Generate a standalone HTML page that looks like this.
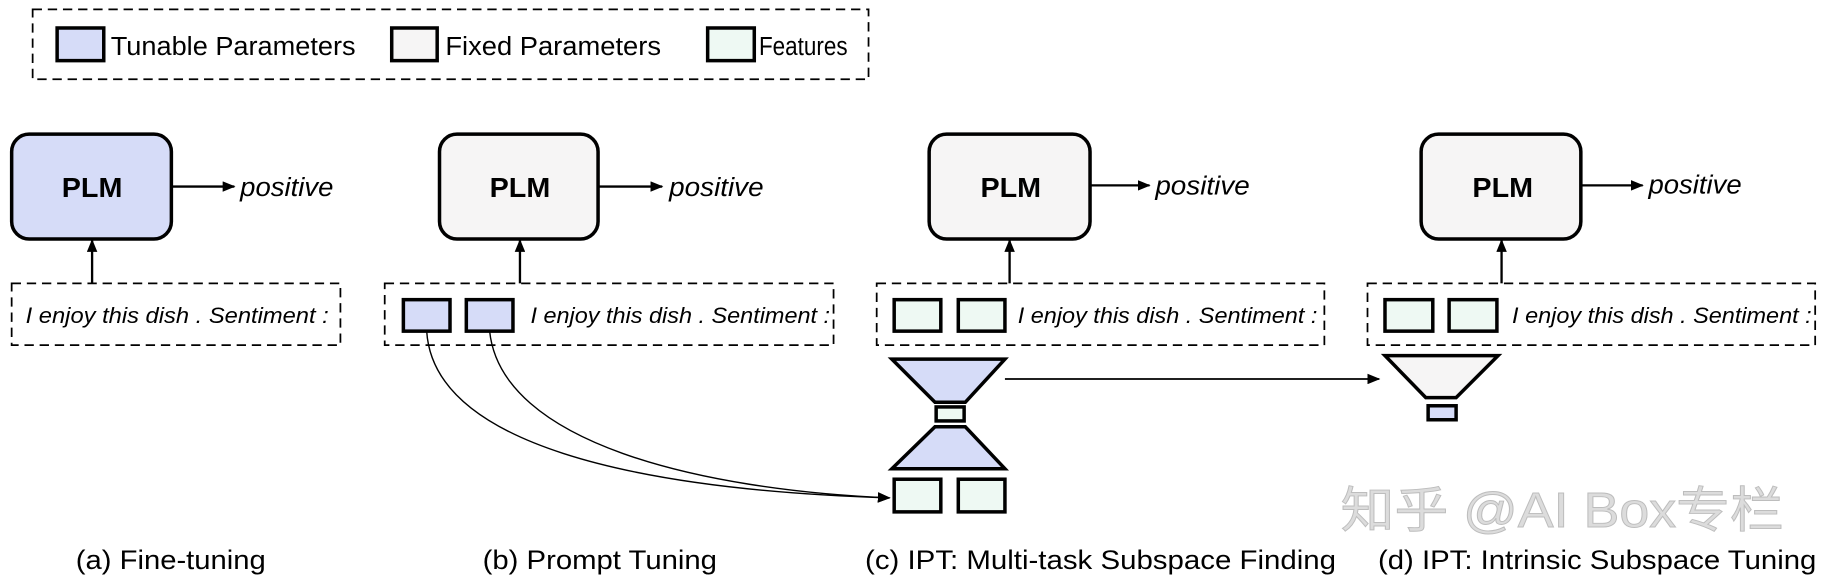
<!DOCTYPE html>
<html><head><meta charset="utf-8"><style>html,body{margin:0;padding:0;background:#fff}svg{display:block}</style></head><body>
<svg width="1828" height="583" viewBox="0 0 1568 500" preserveAspectRatio="none" xmlns="http://www.w3.org/2000/svg" font-family="Liberation Sans, sans-serif">
<defs><marker id="ah" markerWidth="11" markerHeight="9" refX="10" refY="4.5" orient="auto" markerUnits="userSpaceOnUse"><path d="M0,0 L11,4.5 L0,9 Z" fill="#000"/></marker></defs>
<rect x="28" y="8" width="717" height="60" fill="none" stroke="#000" stroke-width="1.5" stroke-dasharray="8,5"/>
<rect x="49" y="24" width="40" height="28" fill="#d6dcf8" stroke="#000" stroke-width="3"/>
<text x="95" y="47" font-size="22" textLength="210" lengthAdjust="spacingAndGlyphs">Tunable Parameters</text>
<rect x="336" y="24" width="39" height="28" fill="#f6f5f5" stroke="#000" stroke-width="3"/>
<text x="382" y="47" font-size="22" textLength="185" lengthAdjust="spacingAndGlyphs">Fixed Parameters</text>
<rect x="607" y="24" width="40" height="28" fill="#eef9f3" stroke="#000" stroke-width="3"/>
<text x="651" y="47" font-size="22" textLength="76" lengthAdjust="spacingAndGlyphs">Features</text>

<g stroke="#000" stroke-width="2" fill="none" marker-end="url(#ah)">
<line x1="79" y1="243" x2="79" y2="206"/><line x1="147" y1="160" x2="201" y2="160"/>
<line x1="446" y1="243" x2="446" y2="206"/><line x1="513" y1="160" x2="568" y2="160"/>
<line x1="866" y1="243" x2="866" y2="206"/><line x1="935" y1="159" x2="986" y2="159"/>
<line x1="1288" y1="243" x2="1288" y2="206"/><line x1="1356" y1="159" x2="1409" y2="159"/>
<line x1="862" y1="325" x2="1183" y2="325" stroke-width="1.5"/>
<path d="M366,284 C372,380 540,420 763,427" stroke-width="1.2"/>
<path d="M420,284 C430,380 600,420 763,427" stroke-width="1.2"/>
</g>

<rect x="10" y="115" width="137" height="90" rx="15" fill="#d6dcf8" stroke="#000" stroke-width="3"/>
<rect x="377" y="115" width="136" height="90" rx="15" fill="#f6f5f5" stroke="#000" stroke-width="3"/>
<rect x="797" y="115" width="138" height="90" rx="15" fill="#f6f5f5" stroke="#000" stroke-width="3"/>
<rect x="1219" y="115" width="137" height="90" rx="15" fill="#f6f5f5" stroke="#000" stroke-width="3"/>
<g font-size="24" font-weight="bold">
<text x="53" y="169" textLength="52" lengthAdjust="spacingAndGlyphs">PLM</text>
<text x="420" y="169" textLength="52" lengthAdjust="spacingAndGlyphs">PLM</text>
<text x="841" y="169" textLength="52" lengthAdjust="spacingAndGlyphs">PLM</text>
<text x="1263" y="169" textLength="52" lengthAdjust="spacingAndGlyphs">PLM</text>
</g>
<g font-size="22" font-style="italic">
<text x="206" y="168" textLength="80" lengthAdjust="spacingAndGlyphs">positive</text>
<text x="574" y="168" textLength="81" lengthAdjust="spacingAndGlyphs">positive</text>
<text x="991" y="167" textLength="81" lengthAdjust="spacingAndGlyphs">positive</text>
<text x="1414" y="166" textLength="80" lengthAdjust="spacingAndGlyphs">positive</text>
</g>

<g fill="none" stroke="#000" stroke-width="1.5" stroke-dasharray="8,5">
<rect x="10" y="243" width="282" height="53"/>
<rect x="330" y="243" width="385" height="53"/>
<rect x="752" y="243" width="384" height="53"/>
<rect x="1173" y="243" width="384" height="53"/>
</g>
<g font-size="19" font-style="italic">
<text x="22" y="277" textLength="260" lengthAdjust="spacingAndGlyphs">I enjoy this dish . Sentiment :</text>
<text x="455" y="277" textLength="257" lengthAdjust="spacingAndGlyphs">I enjoy this dish . Sentiment :</text>
<text x="873" y="277" textLength="257" lengthAdjust="spacingAndGlyphs">I enjoy this dish . Sentiment :</text>
<text x="1297" y="277" textLength="257" lengthAdjust="spacingAndGlyphs">I enjoy this dish . Sentiment :</text>
</g>
<g stroke="#000" stroke-width="3">
<rect x="346" y="257" width="40" height="27" fill="#d6dcf8"/>
<rect x="400" y="257" width="40" height="27" fill="#d6dcf8"/>
<rect x="767" y="257" width="40" height="27" fill="#eef9f3"/>
<rect x="822" y="257" width="40" height="27" fill="#eef9f3"/>
<rect x="1188" y="257" width="41" height="27" fill="#eef9f3"/>
<rect x="1243" y="257" width="41" height="27" fill="#eef9f3"/>
<polygon points="765,308 862,308 828,345 802,345" fill="#d6dcf8"/>
<rect x="803" y="349" width="24" height="12" fill="#eef9f3"/>
<polygon points="802,366 828,366 862,402 765,402" fill="#d6dcf8"/>
<rect x="767" y="411" width="40" height="28" fill="#eef9f3"/>
<rect x="822" y="411" width="40" height="28" fill="#eef9f3"/>
<polygon points="1188,305 1285,305 1249,341 1223,341" fill="#f6f5f5"/>
<rect x="1225" y="348" width="24" height="12" fill="#d6dcf8"/>
</g>

<text x="1150" y="452" font-size="42" fill="#dcdcdc" stroke="#bdbdbd" stroke-width="0.8" font-family="Liberation Sans, Noto Sans CJK SC, sans-serif" textLength="380" lengthAdjust="spacingAndGlyphs">知乎 @AI Box专栏</text>

<g font-size="23">
<text x="65" y="488" textLength="163" lengthAdjust="spacingAndGlyphs">(a) Fine-tuning</text>
<text x="414" y="488" textLength="201" lengthAdjust="spacingAndGlyphs">(b) Prompt Tuning</text>
<text x="742" y="488" textLength="404" lengthAdjust="spacingAndGlyphs">(c) IPT: Multi-task Subspace Finding</text>
<text x="1182" y="488" textLength="376" lengthAdjust="spacingAndGlyphs">(d) IPT: Intrinsic Subspace Tuning</text>
</g>
</svg>
</body></html>
